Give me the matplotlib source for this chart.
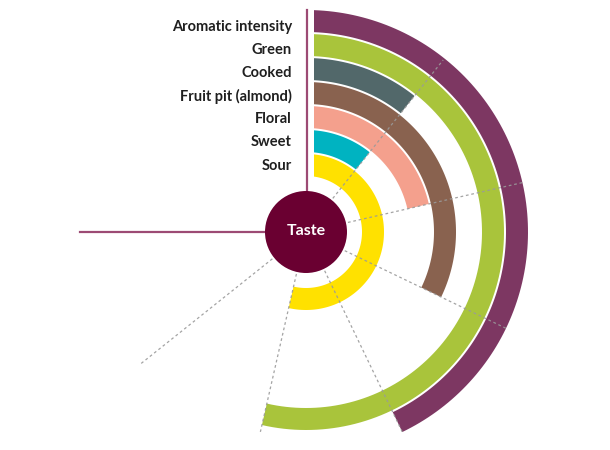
import numpy as np
import matplotlib
matplotlib.use("Agg")
import matplotlib.pyplot as plt
from matplotlib.patches import Polygon, Circle

# data (scale 0..7 mapped onto 270 degrees)
labels = ['Aromatic intensity', 'Green', 'Cooked', 'Fruit pit (almond)',
          'Floral', 'Sweet', 'Sour']
values = [4, 5, 1, 3, 2, 1, 5]
colors = ['#7d3762', '#a9c43b', '#52686a', '#89624f', '#f4a08d', '#00b3c1', '#ffe100']
scale_max = 7
center_label = 'Taste'

plt.rcParams['font.family'] = ['Lato', 'DejaVu Sans']

fig = plt.figure(figsize=(6.1, 4.5), dpi=100)
ax = fig.add_axes([0, 0, 1, 1])
cx, cy = 306, 232
ax.set_xlim(-cx, 610 - cx)
ax.set_ylim(cy - 450, cy)
ax.set_aspect('equal')
ax.axis('off')

line_col = '#9c4a74'
r_hole = 41
r_first = 56
band = 22
gap = 2
pad = 8


def ang(v):
    return np.deg2rad(v / scale_max * 270.0)


def xy(r, t):
    return r * np.sin(t), r * np.cos(t)


n = len(labels)
for k, (lab, val, col) in enumerate(zip(labels, values, colors)):
    i = n - 1 - k  # ring index from the inside
    r0 = r_first + i * (band + gap)
    r1 = r0 + band
    te = ang(val)
    t_out = np.linspace(np.arcsin(pad / r1), te, 120)
    t_in = np.linspace(te, np.arcsin(pad / r0), 120)
    xo, yo = xy(r1, t_out)
    xi, yi = xy(r0, t_in)
    pts = np.column_stack([np.r_[xo, xi], np.r_[yo, yi]])
    ax.add_patch(Polygon(pts, closed=True, facecolor=col, edgecolor='none', zorder=2))
    # label on the left of the start line
    ax.text(-14, 205.5 - 23.2 * k, lab, ha='right', va='center', fontsize=10.5,
            fontweight='bold', color='#1f1f1f')

# grid lines between 0 and the max
line_ends = [220, 224, 224, 222, 205, 213]
for j, r_end in zip(range(1, scale_max), line_ends):
    t = ang(j)
    x0, y0 = xy(43, t)
    x1, y1 = xy(r_end, t)
    ax.plot([x0, x1], [y0, y1], color='#9a9a9a', lw=0.9, ls=(0, (2.2, 2.2)),
            alpha=0.9, zorder=3)

# solid start and end lines
ax.plot([1, 1], [r_hole, 222], color=line_col, lw=1.6, zorder=1)
ax.plot([-r_hole, -226], [0, 0], color=line_col, lw=1.6, zorder=1)

ax.add_patch(Circle((0, 0), r_hole, facecolor='#6a0031', edgecolor='none', zorder=4))
ax.text(0, 1, center_label, ha='center', va='center', fontsize=11.5,
        fontweight='bold', color='white', zorder=5)

fig.savefig('out.png', dpi=100, facecolor='white')
